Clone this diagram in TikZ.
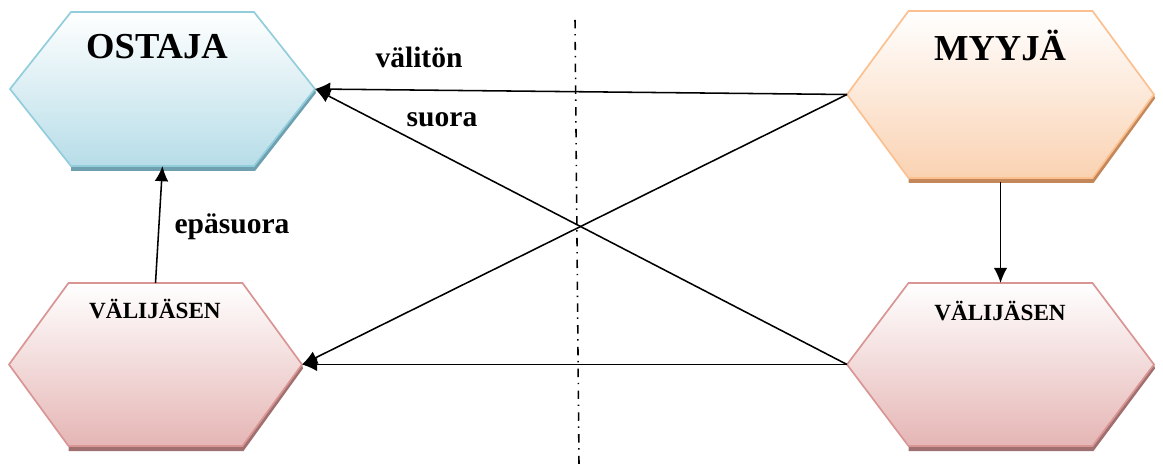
\documentclass[tikz,border=0pt]{standalone}
\usepackage{fontspec}
\setmainfont{Liberation Serif}
\usepackage{tikz}
\usetikzlibrary{arrows.meta,calc}

\definecolor{ostline}{RGB}{146,205,220}
\definecolor{ostfill}{RGB}{183,221,232}
\definecolor{ostshadow}{RGB}{110,160,176}
\definecolor{myyline}{RGB}{250,192,143}
\definecolor{myyfill}{RGB}{250,210,178}
\definecolor{myyshadow}{RGB}{196,135,90}
\definecolor{valline}{RGB}{217,149,148}
\definecolor{valfill}{RGB}{229,182,181}
\definecolor{valshadow}{RGB}{160,112,112}

% name, cx, cy, half width, half top width, half height, fill, line, shadow
\newcommand{\hexa}[9]{%
  \coordinate (#1-l) at (#2-#4,#3);
  \coordinate (#1-r) at (#2+#4,#3);
  \coordinate (#1-t) at (#2,#3-#6);
  \coordinate (#1-b) at (#2,#3+#6);
  \fill[#9] (#2+#4,#3) -- (#2+#5,#3+#6) -- (#2-#5,#3+#6)
    -- (#2-#5,#3+#6+5) -- (#2+#5+1,#3+#6+5) -- (#2+#4+1,#3+4) -- cycle;
  \path[top color=white, bottom color=#7, draw=#8, line width=1.2pt]
    (#2-#4,#3) -- (#2-#5,#3-#6) -- (#2+#5,#3-#6)
    -- (#2+#4,#3) -- (#2+#5,#3+#6) -- (#2-#5,#3+#6) -- cycle;
}

\begin{document}
\begin{tikzpicture}[x=0.025cm, y=-0.025cm,
    bigtxt/.style={font=\fontsize{26}{30}\selectfont\bfseries},
    midtxt/.style={font=\fontsize{16.5}{20}\selectfont\bfseries},
    lbl/.style={font=\fontsize{21}{25}\selectfont\bfseries},
    arr/.style={-{Latex[length=3.8mm,width=3.4mm]}, line width=1.1pt}]
    \useasboundingbox (0,0) rectangle (1163,464);

    % the dividing line
    \coordinate (div-t) at (575,20);
    \coordinate (div-b) at (579,464);
    \draw[line width=1.1pt, dash pattern=on 6pt off 4pt on 1pt off 4.5pt] (div-t) -- (div-b);

    \hexa{ost}{162.5}{89}{152.5}{91.5}{77}{ostfill}{ostline}{ostshadow}
    \hexa{myy}{1000.5}{94.5}{153.5}{92}{83.5}{myyfill}{myyline}{myyshadow}
    \hexa{vala}{155.5}{364.5}{146.5}{87}{81.5}{valfill}{valline}{valshadow}
    \hexa{valb}{1000.5}{364.5}{153.5}{92}{81.5}{valfill}{valline}{valshadow}

    \node[bigtxt] (ostaja) at (157,47) {OSTAJA};
    \node[bigtxt] (myyja) at (1000,45) {MYYJÄ};
    \node[midtxt] (vala-txt) at (155,309) {VÄLIJÄSEN};
    \node[midtxt] (valb-txt) at (1000,311) {VÄLIJÄSEN};

    \draw[arr] (myy-l) -- (ost-r);
    \draw[arr] (myy-l) -- (vala-r);
    \draw[arr] (valb-l) -- (ost-r);
    \draw[arr] (valb-l) -- (vala-r);
    \draw[arr] (vala-t) -- (ost-b);
    \draw[arr] ($(myy-b)+(0,4)$) -- (valb-t);

    \node[lbl] (valiton) at (419,57) {välitön};
    \node[lbl] (suora) at (442,120) {suora};
    \node[lbl] (epasuora) at (232,227) {epäsuora};
\end{tikzpicture}
\end{document}
